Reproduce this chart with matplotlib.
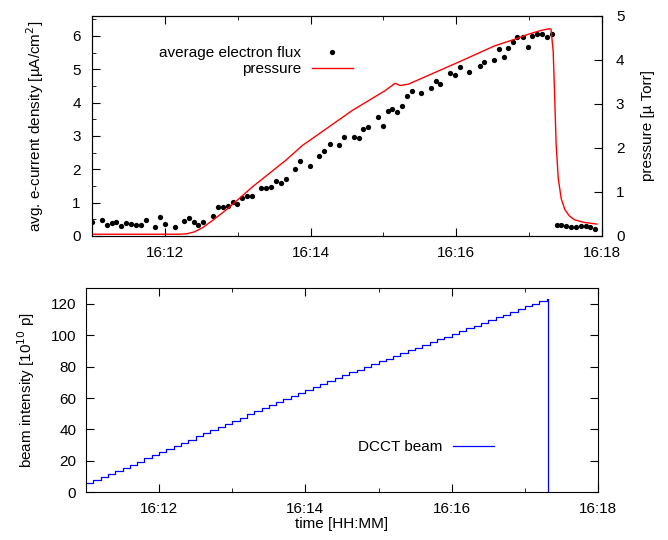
import matplotlib
matplotlib.use("Agg")
import matplotlib.pyplot as plt
from matplotlib.ticker import MultipleLocator, FuncFormatter

plt.rcParams['font.family'] = ['Liberation Sans', 'DejaVu Sans']
plt.rcParams['font.size'] = 11

# average electron flux (minutes after 16:00, uA/cm2)
flux_t = [11.00, 11.14, 11.21, 11.27, 11.33, 11.40, 11.47, 11.54, 11.60, 11.67,
          11.74, 11.87, 11.94, 12.00, 12.14, 12.26, 12.33, 12.40, 12.46, 12.53,
          12.66, 12.73, 12.80, 12.86, 12.93, 12.99, 13.06, 13.13, 13.19, 13.32,
          13.39, 13.46, 13.52, 13.59, 13.66, 13.79, 13.86, 13.99, 14.12, 14.19,
          14.26, 14.39, 14.46, 14.59, 14.66, 14.72, 14.79, 14.92, 14.99, 15.06,
          15.12, 15.19, 15.25, 15.32, 15.39, 15.52, 15.65, 15.72, 15.78, 15.92,
          15.98, 16.05, 16.18, 16.32, 16.38, 16.52, 16.58, 16.65, 16.71, 16.78,
          16.84, 16.91, 16.98, 17.04, 17.11, 17.17, 17.24, 17.31,
          17.38, 17.44, 17.51, 17.57, 17.64, 17.71, 17.78, 17.84, 17.91]
flux_v = [0.43, 0.48, 0.33, 0.38, 0.43, 0.30, 0.40, 0.35, 0.32, 0.34,
          0.48, 0.28, 0.58, 0.35, 0.28, 0.46, 0.53, 0.41, 0.33, 0.43,
          0.60, 0.86, 0.88, 0.90, 1.01, 0.95, 1.15, 1.21, 1.21, 1.43,
          1.45, 1.48, 1.65, 1.60, 1.70, 2.00, 2.24, 2.10, 2.40, 2.55,
          2.77, 2.72, 2.96, 2.98, 2.93, 3.21, 3.26, 3.56, 3.29, 3.75,
          3.80, 3.71, 3.89, 4.21, 4.35, 4.28, 4.43, 4.64, 4.57, 4.89,
          4.84, 5.06, 4.93, 5.10, 5.21, 5.27, 5.61, 5.38, 5.65, 5.82,
          5.97, 5.97, 5.68, 5.99, 6.06, 6.06, 5.97, 6.07,
          0.34, 0.34, 0.31, 0.27, 0.28, 0.31, 0.31, 0.28, 0.22]

# pressure (uTorr)
pres_t = [11.00, 12.20, 12.30, 12.40, 12.52, 12.66, 12.84, 13.205, 13.66, 13.89,
          14.115, 14.57, 15.02, 15.16, 15.23, 15.34, 15.48, 16.07, 16.525, 16.80,
          16.98, 17.16, 17.275, 17.30, 17.33, 17.35, 17.37, 17.40, 17.44, 17.49,
          17.55, 17.62, 17.75, 17.93]
pres_v = [0.04, 0.04, 0.05, 0.09, 0.19, 0.36, 0.59, 1.12, 1.72, 2.06,
          2.32, 2.85, 3.30, 3.47, 3.42, 3.45, 3.55, 3.98, 4.32, 4.47,
          4.58, 4.67, 4.71, 4.70, 4.20, 3.20, 2.10, 1.30, 0.85, 0.60,
          0.46, 0.37, 0.31, 0.27]

# DCCT beam intensity (1e10 p)
beam_t = [11.0, 11.1, 11.2, 11.3, 11.4, 11.5, 11.6, 11.7, 11.8, 11.9,
          12.0, 12.1, 12.2, 12.3, 12.4, 12.5, 12.6, 12.7, 12.8, 12.9,
          13.0, 13.1, 13.2, 13.3, 13.4, 13.5, 13.6, 13.7, 13.8, 13.9,
          14.0, 14.1, 14.2, 14.3, 14.4, 14.5, 14.6, 14.7, 14.8, 14.9,
          15.0, 15.1, 15.2, 15.3, 15.4, 15.5, 15.6, 15.7, 15.8, 15.9,
          16.0, 16.1, 16.2, 16.3, 16.4, 16.5, 16.6, 16.7, 16.8, 16.9,
          17.0, 17.1, 17.2, 17.3, 17.32, 17.32]
beam_v = [5.7, 7.5, 9.5, 11.5, 13.5, 15.5, 17.5, 19.5, 21.5, 23.5,
          25.5, 27.5, 29.5, 31.5, 33.5, 35.5, 37.5, 39.5, 41.5, 43.5,
          45.5, 47.5, 49.5, 51.5, 53.5, 55.5, 57.5, 59.5, 61.5, 63.4,
          65.3, 67.2, 69.0, 70.9, 72.7, 74.5, 76.3, 78.0, 79.8, 81.5,
          83.3, 85.0, 86.8, 88.5, 90.3, 92.0, 93.8, 95.5, 97.3, 99.0,
          100.8, 102.5, 104.3, 106.0, 107.8, 109.5, 111.3, 113.0, 114.8, 116.5,
          118.3, 120.0, 121.8, 123.0, 123.0, -5.0]

hhmm = FuncFormatter(lambda m, pos: "16:%02d" % int(round(m)))

fig = plt.figure(figsize=(6.68, 5.4), dpi=100)
ax1 = fig.add_axes([0.1377, 0.563, 0.7635, 0.4074])
ax2 = ax1.twinx()
ax3 = fig.add_axes([0.1287, 0.0885, 0.7665, 0.378])

# top panel
h1, = ax1.plot(flux_t, flux_v, 'o', color='black', ms=3.8, mec='none',
               label='average electron flux')
h2, = ax2.plot(pres_t, pres_v, '-', color='#ff0000', lw=1.0, label='pressure')
ax1.set_xlim(11, 18)
ax1.set_ylim(0, 6.6)
ax2.set_ylim(0, 5)
ax1.xaxis.set_major_locator(MultipleLocator(2))
ax1.xaxis.set_minor_locator(MultipleLocator(1))
ax1.xaxis.set_major_formatter(hhmm)
ax1.yaxis.set_major_locator(MultipleLocator(1))
ax1.yaxis.set_minor_locator(MultipleLocator(0.5))
ax2.yaxis.set_major_locator(MultipleLocator(1))
ax1.tick_params(which='both', direction='in', top=True, right=False)
ax1.tick_params(which='major', length=6, pad=7)
ax1.tick_params(axis='y', which='major', pad=8)
ax1.tick_params(which='minor', length=3)
ax2.tick_params(direction='in', length=6, pad=10)
ax1.set_ylabel(r'avg. e-current density [µA/cm$^2$]', labelpad=19)
ax2.set_ylabel('pressure [µ Torr]', labelpad=12)
leg = ax2.legend([h1, h2], ['average electron flux', 'pressure'],
                 loc='upper right', bbox_to_anchor=(0.512, 0.862),
                 frameon=False, markerfirst=False, numpoints=1,
                 handlelength=2.7, handletextpad=0.7, labelspacing=0.12,
                 borderpad=0, borderaxespad=0)

# bottom panel
ax3.plot(beam_t, beam_v, color='#0000ff', lw=0.9, drawstyle='steps-post',
         label='DCCT beam')
ax3.set_xlim(11, 18)
ax3.set_ylim(0, 130)
ax3.xaxis.set_major_locator(MultipleLocator(2))
ax3.xaxis.set_minor_locator(MultipleLocator(1))
ax3.xaxis.set_major_formatter(hhmm)
ax3.yaxis.set_major_locator(MultipleLocator(20))
ax3.tick_params(which='both', direction='in', top=True, right=True)
ax3.tick_params(which='major', length=6, pad=7)
ax3.tick_params(which='minor', length=3)
ax3.set_ylabel(r'beam intensity [10$^{10}$ p]', labelpad=10)
ax3.set_xlabel('time [HH:MM]', labelpad=1)
ax3.legend(loc='upper right', bbox_to_anchor=(0.797, 0.255),
           frameon=False, markerfirst=False, handlelength=2.7,
           handletextpad=0.7, borderpad=0, borderaxespad=0)

fig.savefig('out.png', dpi=100)
